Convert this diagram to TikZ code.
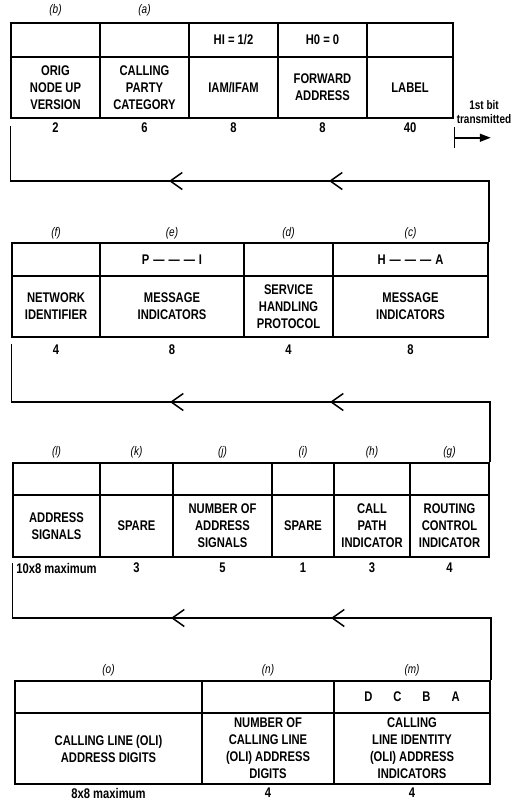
\documentclass[tikz,border=0pt]{standalone}
\usepackage{fontspec}
\setmainfont{Liberation Sans}[FakeStretch=0.8]
\usetikzlibrary{arrows.meta,decorations.markings}

\begin{document}
\begin{tikzpicture}[x=1pt, y=-1pt,
  hdr/.style={draw, line width=1.5pt, minimum height=34pt, inner sep=0pt,
              font=\fontsize{14}{17}\selectfont\bfseries},
  fld/.style={draw, line width=1.5pt, align=center, inner sep=0pt,
              font=\fontsize{14}{17}\selectfont\bfseries},
  tag/.style={font=\fontsize{12.5}{13}\selectfont\itshape},
  bits/.style={font=\fontsize{14}{14}\selectfont\bfseries},
  note/.style={align=center, inner sep=0pt, font=\fontsize{12.5}{14}\selectfont\bfseries},
  link/.style={line width=1.5pt},
  flow/.style 2 args={postaction=decorate, decoration={markings,
      mark=at position #1 with {\arrow{Straight Barb[length=12pt,width=17pt]}},
      mark=at position #2 with {\arrow{Straight Barb[length=12pt,width=17pt]}}}},
]
  \useasboundingbox (0,0) rectangle (515,801);

  % first row (label side)
  \foreach \id/\xl/\xr/\tp/\bt/\nb in {
      ver/11/100//{ORIG\\NODE UP\\VERSION}/2,
      cat/100/189//{CALLING\\PARTY\\CATEGORY}/6,
      iam/189/278/{HI = 1/2}/{IAM/IFAM}/8,
      fwd/278/367/{H0 = 0}/{FORWARD\\ADDRESS}/8,
      lbl/367/453//{LABEL}/40} {
    \node[hdr, minimum width={\xr-\xl}] (\id-top) at ({(\xl+\xr)/2},40) {\tp};
    \node[fld, minimum width={\xr-\xl}, minimum height=61pt] (\id-bot) at ({(\xl+\xr)/2},87.5) {\bt};
    \node[bits] (\id-len) at ({(\xl+\xr)/2},128) {\nb};
  }
  \node[tag] (ver-tag) at (ver-top.north |- 0,10) {(b)};
  \node[tag] (cat-tag) at (cat-top.north |- 0,10) {(a)};

  % first bit
  \node[note] (txnote) at (484,112) {1st bit\\transmitted};
  \draw[link, {Bar[width=21pt]}-{Triangle[length=11pt,width=8pt]}]
    ([yshift=-19pt]lbl-bot.south east) -- ++(37,0);

  % second row
  \foreach \id/\xl/\xr/\tg/\tp/\bt/\nb in {
      f/12/100/(f)//{NETWORK\\IDENTIFIER}/4,
      e/100/244/(e)/{P\hspace{4pt}---\hspace{4pt}---\hspace{4pt}---\hspace{4pt}I}/{MESSAGE\\INDICATORS}/8,
      d/244/333/(d)//{SERVICE\\HANDLING\\PROTOCOL}/4,
      c/333/488/(c)/{H\hspace{4pt}---\hspace{4pt}---\hspace{4pt}---\hspace{4pt}A}/{MESSAGE\\INDICATORS}/8} {
    \node[hdr, minimum width={\xr-\xl}, minimum height=33pt] (\id-top) at ({(\xl+\xr)/2},259.5) {\tp};
    \node[fld, minimum width={\xr-\xl}, minimum height=61pt] (\id-bot) at ({(\xl+\xr)/2},306.5) {\bt};
    \node[tag] (\id-tag) at ({(\xl+\xr)/2},233) {\tg};
    \node[bits] (\id-len) at ({(\xl+\xr)/2},350) {\nb};
  }

  % third row
  \foreach \id/\xl/\xr/\tg/\bt/\nb in {
      l/13/100/(l)/{ADDRESS\\SIGNALS}/{10x8 maximum},
      k/100/173/(k)/{SPARE}/3,
      j/173/272/(j)/{NUMBER OF\\ADDRESS\\SIGNALS}/5,
      i/272/334/(i)/{SPARE}/1,
      h/334/410/(h)/{CALL\\PATH\\INDICATOR}/3,
      g/410/489/(g)/{ROUTING\\CONTROL\\INDICATOR}/4} {
    \node[hdr, minimum width={\xr-\xl}, minimum height=32pt] (\id-top) at ({(\xl+\xr)/2},479) {};
    \node[fld, minimum width={\xr-\xl}, minimum height=62pt] (\id-bot) at ({(\xl+\xr)/2},526) {\bt};
    \node[tag] (\id-tag) at ({(\xl+\xr)/2},452) {\tg};
    \node[bits] (\id-len) at ({(\xl+\xr)/2},568) {\nb};
  }

  % fourth row
  \foreach \id/\xl/\xr/\tg/\tp/\bt/\nb in {
      o/15/202/(o)//{CALLING LINE (OLI)\\ADDRESS DIGITS}/{8x8 maximum},
      n/202/334/(n)//{NUMBER OF\\CALLING LINE\\(OLI) ADDRESS\\DIGITS}/4,
      m/334/490/(m)/{D\hspace{21pt}C\hspace{21pt}B\hspace{21pt}A}/{CALLING\\LINE IDENTITY\\(OLI) ADDRESS\\INDICATORS}/4} {
    \node[hdr, minimum width={\xr-\xl}, minimum height=32pt] (\id-top) at ({(\xl+\xr)/2},697) {\tp};
    \node[fld, minimum width={\xr-\xl}, minimum height=71pt] (\id-bot) at ({(\xl+\xr)/2},748.5) {\bt};
    \node[tag] (\id-tag) at ({(\xl+\xr)/2},670) {\tg};
    \node[bits] (\id-len) at ({(\xl+\xr)/2},793) {\nb};
  }

  % turn-backs between rows
  \coordinate (bendAr) at (c-top.north east |- 0,181);
  \coordinate (bendAl) at (ver-bot.south west |- 0,181);
  \draw[link, flow={221pt}{381pt}] (c-top.north east) -- (bendAr) -- (bendAl)
    -- ([yshift=-7pt]ver-bot.south west);

  \coordinate (bendBr) at (g-top.north east |- 0,402);
  \coordinate (bendBl) at (f-bot.south west |- 0,402);
  \draw[link, flow={220pt}{380pt}] (g-top.north east) -- (bendBr) -- (bendBl)
    -- ([yshift=-6pt]f-bot.south west);

  \coordinate (bendCr) at (m-top.north east |- 0,618);
  \coordinate (bendCl) at (l-bot.south west |- 0,618);
  \draw[link, flow={222pt}{382pt}] (m-top.north east) -- (bendCr) -- (bendCl)
    -- ([yshift=-5pt]l-bot.south west);

\end{tikzpicture}
\end{document}
